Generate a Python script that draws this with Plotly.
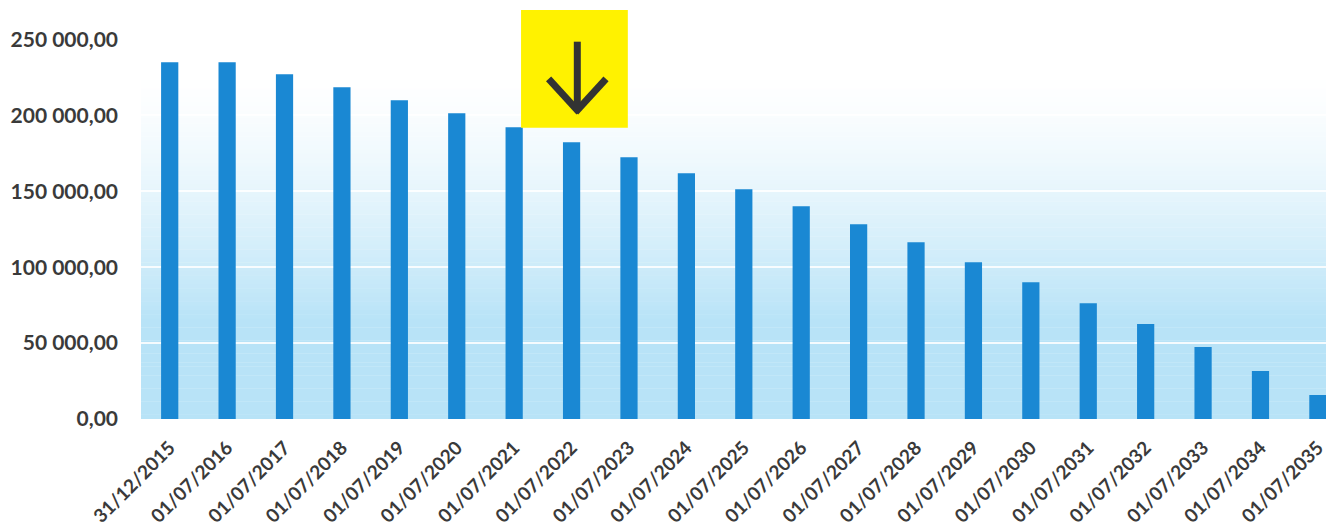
import plotly.graph_objects as go

categories = ["31/12/2015", "01/07/2016", "01/07/2017", "01/07/2018", "01/07/2019",
              "01/07/2020", "01/07/2021", "01/07/2022", "01/07/2023", "01/07/2024",
              "01/07/2025", "01/07/2026", "01/07/2027", "01/07/2028", "01/07/2029",
              "01/07/2030", "01/07/2031", "01/07/2032", "01/07/2033", "01/07/2034",
              "01/07/2035"]
values = [235000, 235000, 227000, 218500, 210000, 201300, 192100, 182200, 172400,
          161800, 151300, 140100, 128300, 116400, 103300, 90100, 76300, 62500,
          47400, 31600, 15800]
tick_vals = [0, 50000, 100000, 150000, 200000, 250000]
tick_text = ["0,00", "50 000,00", "100 000,00", "150 000,00", "200 000,00", "250 000,00"]

BAR_COLOR = "#1a88d3"
FONT = "Lato"

fig = go.Figure()
fig.add_trace(go.Bar(x=categories, y=values, marker=dict(color=BAR_COLOR, line=dict(width=0)),
                     width=0.3))

shapes = []
# vertical gradient background (white at top -> light blue at bottom)
n = 90
top = (255, 255, 255)
bot = (184, 227, 247)
for i in range(n):
    t0 = i / n
    t1 = (i + 1) / n
    d = (t0 + t1) / 2  # 0 at top -> 1 at bottom
    f = min(1.0, max(0.0, (d - 0.12) / 0.63)) ** 1.4
    c = tuple(int(round(top[k] + (bot[k] - top[k]) * f)) for k in range(3))
    shapes.append(dict(type="rect", xref="x domain", yref="y domain",
                       x0=0, x1=1, y0=1 - t1, y1=1 - t0 + 0.001,
                       fillcolor="rgb(%d,%d,%d)" % c, line=dict(width=0), layer="below"))

# yellow marker box with down arrow above 01/07/2022
cx = 7.05
shapes.append(dict(type="rect", xref="x", yref="paper", x0=cx - 0.93, x1=cx + 0.93,
                   y0=0.745, y1=1.046, fillcolor="#fff200", line=dict(width=0)))
ax = 7.1
shapes.append(dict(type="line", xref="x", yref="paper", x0=ax, x1=ax, y0=0.79, y1=0.965,
                   line=dict(color="#333333", width=7)))
shapes.append(dict(type="line", xref="x", yref="paper", x0=ax - 0.5, x1=ax + 0.03, y0=0.87, y1=0.785,
                   line=dict(color="#333333", width=7)))
shapes.append(dict(type="line", xref="x", yref="paper", x0=ax + 0.5, x1=ax - 0.03, y0=0.87, y1=0.785,
                   line=dict(color="#333333", width=7)))

fig.update_layout(
    width=1334, height=531,
    margin=dict(l=133, r=0, t=20, b=120, autoexpand=False),
    paper_bgcolor="white",
    plot_bgcolor="rgba(0,0,0,0)",
    showlegend=False,
    shapes=shapes,
    bargap=0.7,
    font=dict(family=FONT, color="#404040", size=19),
)
fig.update_xaxes(type="category", range=[-0.5, 20.42], tickangle=-45, automargin=False,
                 tickfont=dict(family=FONT, size=19, color="#3a3a3a", weight="bold"),
                 showgrid=False, zeroline=False, showline=False, ticks="",
                 ticklabelstandoff=13)
fig.update_yaxes(range=[0, 257500], tickvals=tick_vals, ticktext=tick_text, automargin=False,
                 tickfont=dict(family=FONT, size=21, color="#3a3a3a", weight="bold"),
                 showgrid=True, gridcolor="rgba(255,255,255,0.85)", gridwidth=2,
                 zeroline=False, showline=False, ticks="", ticklabelstandoff=22)

fig.write_html("out.html")
